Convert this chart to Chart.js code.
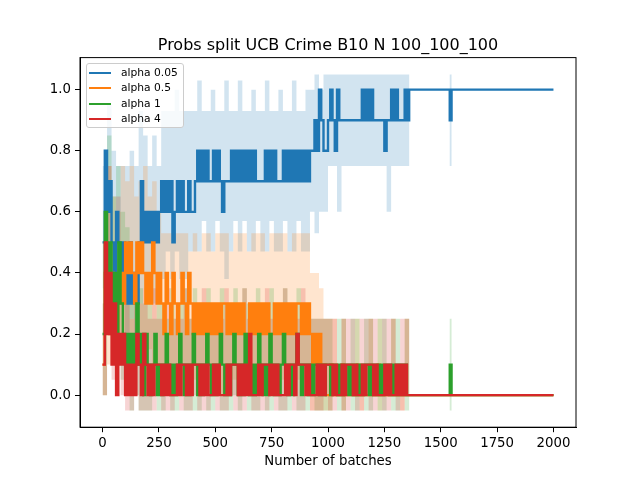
<!DOCTYPE html>
<html>
<head>
<meta charset="utf-8">
<script src="https://cdn.jsdelivr.net/npm/chart.js@4/dist/chart.umd.min.js"></script>
<style>
body { margin: 0; background: #fff; }
#wrap { position: relative; width: 640px; height: 480px; font-family: "DejaVu Sans", sans-serif; }
#legend { position: absolute; left: 86px; top: 63px; width: 98px; height: 65px; box-sizing: border-box;
  border: 1px solid #cccccc; border-radius: 3px; background: rgba(255,255,255,0.8); }
.entry { position: absolute; left: 0; height: 14px; width: 98px; }
.entry .swatch { position: absolute; left: 2px; top: 6px; width: 22px; height: 2px; }
.entry .name { position: absolute; left: 34px; top: 0; font-size: 10.7px; line-height: 14px; color: #000; white-space: nowrap; }
</style>
</head>
<body>
<div id="wrap">
  <canvas id="chart" width="640" height="480"></canvas>
  <div id="legend"></div>
</div>
<script>
// chart texts
var chartTitle = "Probs split UCB Crime B10 N 100_100_100";
var xTitle = "Number of batches";
var seriesNames = ["alpha 0.05", "alpha 0.5", "alpha 1", "alpha 4"];
var seriesColors = ["#1f77b4", "#ff7f0e", "#2ca02c", "#d62728"];
var xTicks = [0, 250, 500, 750, 1000, 1250, 1500, 1750, 2000];
var yTicks = [0.0, 0.2, 0.4, 0.6, 0.8, 1.0];

// batch numbers of the mean lines: every 10 batches up to 1360, then the tail
var batches = [];
for (var b = 0; b <= 1360; b += 10) batches.push(b);
batches.push(1540, 1548, 2000);

// batch numbers of the confidence bands: every 20 batches up to 1360, then the tail
var bandBatches = [];
for (var c = 0; c <= 1360; c += 20) bandBatches.push(c);
bandBatches.push(1540, 1548, 2000);

// mean lines (one row = 100 batches)
var alpha005 = [
  0.5, 0.8, 0.6, 0.7, 0.5, 0.4, 0.6, 0.5, 0.4, 0.5,
  0.4, 0.3, 0.5, 0.3, 0.4, 0.3, 0.5, 0.7, 0.5, 0.6,
  0.5, 0.6, 0.5, 0.6, 0.5, 0.6, 0.7, 0.6, 0.7, 0.6,
  0.7, 0.5, 0.6, 0.7, 0.6, 0.7, 0.6, 0.6, 0.7, 0.6,
  0.6, 0.7, 0.8, 0.7, 0.8, 0.7, 0.8, 0.7, 0.7, 0.8,
  0.7, 0.8, 0.7, 0.6, 0.7, 0.7, 0.7, 0.8, 0.7, 0.8,
  0.7, 0.8, 0.7, 0.8, 0.7, 0.8, 0.7, 0.8, 0.7, 0.7,
  0.7, 0.7, 0.8, 0.7, 0.8, 0.7, 0.8, 0.7, 0.7, 0.7,
  0.8, 0.7, 0.8, 0.7, 0.8, 0.7, 0.8, 0.7, 0.8, 0.7,
  0.8, 0.7, 0.8, 0.8, 0.9, 0.8, 1.0, 0.9, 0.8, 0.8,
  0.9, 1.0, 0.9, 0.8, 1.0, 0.9, 0.9, 0.9, 0.9, 0.9,
  0.9, 0.9, 0.9, 0.9, 0.9, 1.0, 0.9, 1.0, 0.9, 1.0,
  0.9, 0.9, 0.9, 0.9, 0.9, 0.8, 0.9, 0.9, 1.0, 0.9,
  1.0, 0.9, 0.9, 0.9, 1.0, 0.9, 1.0,
  0.9, 1.0, 1.0
];
var alpha05 = [
  0.1, 0.4, 0.3, 0.2, 0.4, 0.3, 0.2, 0.3, 0.4, 0.3,
  0.5, 0.4, 0.5, 0.4, 0.3, 0.5, 0.4, 0.5, 0.4, 0.3,
  0.4, 0.3, 0.5, 0.4, 0.3, 0.4, 0.3, 0.2, 0.4, 0.3,
  0.2, 0.4, 0.3, 0.2, 0.3, 0.4, 0.3, 0.2, 0.4, 0.3,
  0.2, 0.3, 0.2, 0.3, 0.2, 0.3, 0.2, 0.3, 0.2, 0.3,
  0.2, 0.3, 0.2, 0.3, 0.3, 0.2, 0.3, 0.2, 0.3, 0.2,
  0.3, 0.2, 0.3, 0.2, 0.2, 0.3, 0.2, 0.3, 0.2, 0.3,
  0.2, 0.3, 0.2, 0.3, 0.2, 0.2, 0.3, 0.2, 0.3, 0.2,
  0.3, 0.2, 0.3, 0.2, 0.3, 0.2, 0.3, 0.3, 0.2, 0.3,
  0.2, 0.3, 0.2, 0.1, 0.2, 0.1, 0.2, 0.1, 0.1, 0.0,
  0.0, 0.1, 0.0, 0.0, 0.0, 0.0, 0.1, 0.0, 0.0, 0.0,
  0.0, 0.0, 0.0, 0.1, 0.0, 0.0, 0.0, 0.0, 0.0, 0.0,
  0.0, 0.0, 0.1, 0.0, 0.0, 0.0, 0.0, 0.0, 0.0, 0.0,
  0.0, 0.0, 0.0, 0.0, 0.0, 0.0, 0.0,
  0.0, 0.0, 0.0
];
var alpha1 = [
  0.2, 0.6, 0.4, 0.5, 0.3, 0.4, 0.2, 0.5, 0.3, 0.2,
  0.1, 0.2, 0.1, 0.2, 0.1, 0.3, 0.1, 0.2, 0.0, 0.2,
  0.1, 0.0, 0.1, 0.2, 0.0, 0.1, 0.0, 0.1, 0.2, 0.1,
  0.0, 0.1, 0.0, 0.1, 0.2, 0.1, 0.0, 0.1, 0.0, 0.1,
  0.2, 0.1, 0.0, 0.1, 0.0, 0.1, 0.2, 0.1, 0.0, 0.1,
  0.0, 0.1, 0.2, 0.1, 0.0, 0.1, 0.0, 0.1, 0.2, 0.1,
  0.0, 0.1, 0.0, 0.2, 0.1, 0.0, 0.1, 0.0, 0.1, 0.2,
  0.1, 0.0, 0.1, 0.0, 0.2, 0.1, 0.0, 0.1, 0.0, 0.1,
  0.2, 0.1, 0.0, 0.1, 0.0, 0.1, 0.2, 0.1, 0.0, 0.1,
  0.1, 0.0, 0.1, 0.0, 0.1, 0.1, 0.0, 0.1, 0.0, 0.1,
  0.1, 0.0, 0.1, 0.1, 0.0, 0.1, 0.0, 0.1, 0.1, 0.0,
  0.1, 0.0, 0.1, 0.0, 0.1, 0.0, 0.1, 0.1, 0.0, 0.1,
  0.0, 0.1, 0.0, 0.1, 0.0, 0.1, 0.1, 0.0, 0.1, 0.0,
  0.1, 0.0, 0.1, 0.0, 0.1, 0.0, 0.0,
  0.1, 0.0, 0.0
];
var alpha4 = [
  0.1, 0.5, 0.2, 0.4, 0.1, 0.3, 0.0, 0.2, 0.1, 0.2,
  0.0, 0.1, 0.0, 0.1, 0.0, 0.2, 0.1, 0.0, 0.2, 0.1,
  0.0, 0.1, 0.0, 0.1, 0.1, 0.1, 0.0, 0.1, 0.0, 0.1,
  0.0, 0.0, 0.0, 0.1, 0.0, 0.1, 0.1, 0.0, 0.1, 0.0,
  0.1, 0.1, 0.1, 0.0, 0.1, 0.0, 0.1, 0.0, 0.0, 0.1,
  0.0, 0.1, 0.0, 0.0, 0.0, 0.1, 0.0, 0.1, 0.1, 0.1,
  0.0, 0.1, 0.0, 0.1, 0.0, 0.2, 0.0, 0.0, 0.0, 0.1,
  0.0, 0.1, 0.1, 0.1, 0.0, 0.1, 0.0, 0.1, 0.0, 0.0,
  0.0, 0.1, 0.0, 0.1, 0.1, 0.0, 0.2, 0.1, 0.1, 0.1,
  0.0, 0.1, 0.0, 0.0, 0.0, 0.1, 0.0, 0.1, 0.0, 0.1,
  0.1, 0.1, 0.0, 0.1, 0.0, 0.0, 0.1, 0.0, 0.1, 0.1,
  0.1, 0.0, 0.1, 0.0, 0.0, 0.1, 0.0, 0.1, 0.1, 0.1,
  0.0, 0.1, 0.0, 0.0, 0.0, 0.1, 0.0, 0.1, 0.0, 0.0,
  0.1, 0.0, 0.1, 0.0, 0.1, 0.0, 0.0,
  0.0, 0.0, 0.0
];

// confidence bands, lower and upper edge (one row = 200 batches)
var alpha005Low = [
  0.35, 0.3, 0.25, 0.3, 0.3, 0.2, 0.25, 0.15, 0.3, 0.35,
  0.35, 0.3, 0.35, 0.38, 0.47, 0.38, 0.47, 0.38, 0.38, 0.47,
  0.47, 0.47, 0.57, 0.47, 0.47, 0.57, 0.47, 0.38, 0.47, 0.57,
  0.47, 0.57, 0.47, 0.47, 0.57, 0.47, 0.47, 0.57, 0.47, 0.47,
  0.57, 0.47, 0.47, 0.57, 0.47, 0.47, 0.6, 0.53, 0.6, 0.6,
  0.75, 0.75, 0.6, 0.75, 0.75, 0.75, 0.75, 0.75, 0.75, 0.75,
  0.75, 0.75, 0.75, 0.6, 0.75, 0.75, 0.75, 0.75, 1.0,
  0.75, 1.0, 1.0
];
var alpha005High = [
  0.75, 0.95, 0.8, 0.75, 0.75, 0.75, 0.8, 0.75, 0.93, 0.85,
  0.75, 0.85, 0.75, 0.93, 0.93, 0.93, 1.0, 0.93, 0.93, 0.93,
  0.93, 1.03, 0.93, 0.93, 1.0, 0.93, 0.93, 1.03, 0.93, 0.93,
  1.03, 0.93, 0.93, 1.0, 0.93, 0.93, 1.03, 0.93, 0.93, 1.0,
  0.93, 0.93, 1.03, 0.93, 0.93, 1.0, 1.0, 1.05, 1.0, 1.05,
  1.05, 1.05, 1.05, 1.05, 1.05, 1.05, 1.05, 1.05, 1.05, 1.05,
  1.05, 1.05, 1.05, 1.05, 1.05, 1.05, 1.05, 1.05, 1.0,
  1.05, 1.0, 1.0
];
var alpha05Low = [
  0.0, 0.1, 0.1, 0.15, 0.2, 0.2, 0.15, 0.2, 0.2, 0.15,
  0.15, 0.1, 0.1, 0.05, 0.05, 0.1, 0.05, 0.05, 0.05, 0.05,
  0.05, 0.05, 0.0, 0.05, 0.05, 0.05, 0.0, 0.05, 0.05, 0.05,
  0.05, 0.0, 0.05, 0.05, 0.05, 0.05, 0.0, 0.05, 0.05, 0.05,
  0.05, 0.05, 0.0, 0.05, 0.05, 0.0, -0.05, -0.05, -0.05, -0.05,
  -0.05, 0.0, 0.0, -0.05, 0.0, 0.0, 0.0, -0.05, 0.0, 0.0,
  0.0, -0.05, 0.0, 0.0, 0.0, 0.0, -0.05, 0.0, 0.0,
  0.0, 0.0, 0.0
];
var alpha05High = [
  0.5, 0.75, 0.65, 0.6, 0.75, 0.7, 0.75, 0.65, 0.7, 0.75,
  0.65, 0.7, 0.6, 0.53, 0.53, 0.53, 0.53, 0.53, 0.53, 0.47,
  0.53, 0.47, 0.53, 0.53, 0.47, 0.53, 0.53, 0.53, 0.47, 0.53,
  0.53, 0.53, 0.47, 0.53, 0.53, 0.53, 0.47, 0.53, 0.53, 0.53,
  0.53, 0.47, 0.53, 0.53, 0.53, 0.53, 0.4, 0.4, 0.35, 0.25,
  0.25, 0.25, 0.0, 0.25, 0.0, 0.0, 0.25, 0.0, 0.0, 0.25,
  0.0, 0.25, 0.0, 0.0, 0.25, 0.0, 0.0, 0.25, 0.0,
  0.0, 0.0, 0.0
];
var alpha1Low = [
  0.0, 0.25, 0.1, 0.15, 0.05, 0.0, -0.05, 0.0, -0.05, -0.05,
  -0.05, 0.0, -0.05, -0.05, 0.0, -0.05, -0.05, 0.0, -0.05, -0.05,
  -0.05, -0.05, 0.0, -0.05, -0.05, 0.0, -0.05, -0.05, -0.05, 0.0,
  -0.05, 0.0, -0.05, -0.05, -0.05, 0.0, -0.05, -0.05, 0.0, -0.05,
  -0.05, -0.05, 0.0, -0.05, -0.05, -0.05, 0.0, -0.05, -0.05, -0.05,
  -0.05, 0.0, -0.05, -0.05, 0.0, -0.05, -0.05, 0.0, -0.05, -0.05,
  0.0, -0.05, -0.05, 0.0, -0.05, -0.05, 0.0, -0.05, 0.0,
  -0.05, 0.0, 0.0
];
var alpha1High = [
  0.3, 0.85, 0.65, 0.75, 0.6, 0.55, 0.35, 0.4, 0.35, 0.3,
  0.35, 0.25, 0.35, 0.3, 0.25, 0.35, 0.25, 0.3, 0.35, 0.25,
  0.35, 0.25, 0.3, 0.35, 0.25, 0.25, 0.35, 0.3, 0.25, 0.35,
  0.25, 0.35, 0.3, 0.25, 0.35, 0.25, 0.3, 0.35, 0.25, 0.3,
  0.35, 0.25, 0.3, 0.35, 0.25, 0.3, 0.25, 0.25, 0.25, 0.25,
  0.25, 0.1, 0.25, 0.25, 0.1, 0.25, 0.25, 0.1, 0.25, 0.25,
  0.1, 0.25, 0.25, 0.1, 0.25, 0.25, 0.1, 0.25, 0.0,
  0.25, 0.0, 0.0
];
var alpha4Low = [
  0.0, 0.2, 0.05, 0.1, 0.0, -0.05, -0.05, 0.0, -0.05, -0.05,
  -0.05, -0.05, 0.0, -0.05, -0.05, -0.05, 0.0, -0.05, -0.05, -0.05,
  0.0, -0.05, -0.05, -0.05, 0.0, -0.05, -0.05, -0.05, 0.0, -0.05,
  -0.05, -0.05, 0.0, -0.05, -0.05, -0.05, -0.05, 0.0, -0.05, -0.05,
  -0.05, 0.0, -0.05, -0.05, -0.05, 0.0, -0.05, -0.05, -0.05, 0.0,
  -0.05, -0.05, 0.0, -0.05, -0.05, 0.0, -0.05, -0.05, 0.0, -0.05,
  -0.05, 0.0, -0.05, -0.05, 0.0, -0.05, -0.05, 0.0, 0.0,
  0.0, 0.0, 0.0
];
var alpha4High = [
  0.3, 0.75, 0.5, 0.65, 0.35, 0.5, 0.25, 0.35, 0.3, 0.35,
  0.25, 0.35, 0.25, 0.25, 0.35, 0.25, 0.25, 0.25, 0.35, 0.25,
  0.25, 0.25, 0.35, 0.25, 0.25, 0.25, 0.25, 0.35, 0.25, 0.25,
  0.25, 0.35, 0.25, 0.25, 0.25, 0.25, 0.35, 0.25, 0.25, 0.25,
  0.35, 0.25, 0.25, 0.25, 0.35, 0.25, 0.25, 0.25, 0.25, 0.25,
  0.25, 0.25, 0.1, 0.25, 0.25, 0.25, 0.1, 0.25, 0.25, 0.25,
  0.25, 0.1, 0.25, 0.25, 0.25, 0.1, 0.25, 0.25, 0.0,
  0.0, 0.0, 0.0
];

var lines = [alpha005, alpha05, alpha1, alpha4];
var bandLows = [alpha005Low, alpha05Low, alpha1Low, alpha4Low];
var bandHighs = [alpha005High, alpha05High, alpha1High, alpha4High];

function toPoints(xs, ys) {
  return xs.map(function (x, k) { return { x: x, y: ys[k] }; });
}

function fade(hex, a) {
  var n = parseInt(hex.slice(1), 16);
  return "rgba(" + (n >> 16) + "," + ((n >> 8) & 255) + "," + (n & 255) + "," + a + ")";
}

var datasets = [];
// bands sit under every line, like matplotlib's fill_between
bandLows.forEach(function (low, i) {
  datasets.push({
    label: seriesNames[i] + " low", data: toPoints(bandBatches, low),
    borderWidth: 0, pointRadius: 0, stepped: true, fill: false, order: 7 - i
  });
  datasets.push({
    label: seriesNames[i] + " high", data: toPoints(bandBatches, bandHighs[i]),
    borderWidth: 0, pointRadius: 0, stepped: true, fill: "-1",
    backgroundColor: fade(seriesColors[i], 0.2), order: 7 - i
  });
});
lines.forEach(function (vals, i) {
  datasets.push({
    label: seriesNames[i], data: toPoints(batches, vals),
    borderColor: seriesColors[i], borderWidth: 2.4, pointRadius: 0,
    stepped: true, fill: false, order: 3 - i
  });
});

// full box round the axes plus the title above it
var framePlugin = {
  id: "frame",
  afterDraw: function (chart) {
    var ctx = chart.ctx, a = chart.chartArea;
    ctx.save();
    ctx.strokeStyle = "#000";
    ctx.lineWidth = 1;
    ctx.strokeRect(a.left, a.top, a.right - a.left, a.bottom - a.top);
    ctx.fillStyle = "#000";
    ctx.font = '16px "DejaVu Sans"';
    ctx.textAlign = "center";
    ctx.textBaseline = "alphabetic";
    ctx.fillText(chartTitle, (a.left + a.right) / 2, a.top - 8);
    ctx.restore();
  }
};

var tickFont = { family: "DejaVu Sans", size: 13.3 };

new Chart("chart", {
  type: "line",
  data: { datasets: datasets },
  options: {
    responsive: false,
    animation: false,
    events: [],
    layout: { padding: { left: 0, right: 64, top: 57.6, bottom: 0 } },
    plugins: { legend: { display: false }, tooltip: { enabled: false }, title: { display: false } },
    scales: {
      x: {
        type: "linear", min: -100, max: 2100,
        afterBuildTicks: function (s) { s.ticks = xTicks.map(function (v) { return { value: v }; }); },
        afterFit: function (s) { s.height = 52.8; },
        grid: { drawOnChartArea: false, tickLength: 5, color: "#000" },
        border: { color: "#000", width: 1 },
        ticks: { color: "#000", font: tickFont, padding: 3, autoSkip: false, maxRotation: 0,
                 callback: function (v) { return String(v); } },
        title: { display: true, text: xTitle, color: "#000", font: tickFont, padding: { top: 0, bottom: 10 } }
      },
      y: {
        min: -0.105, max: 1.105,
        afterBuildTicks: function (s) { s.ticks = yTicks.map(function (v) { return { value: v }; }); },
        afterFit: function (s) { s.width = 80; },
        grid: { drawOnChartArea: false, tickLength: 5, color: "#000" },
        border: { color: "#000", width: 1 },
        ticks: { color: "#000", font: tickFont, padding: 4,
                 callback: function (v) { return v.toFixed(1); } }
      }
    }
  },
  plugins: [framePlugin]
});

// legend in the top left corner of the axes
var legend = document.getElementById("legend");
seriesNames.forEach(function (name, i) {
  var row = document.createElement("div");
  row.className = "entry";
  row.style.top = (2 + i * 15.4) + "px";
  var sw = document.createElement("div");
  sw.className = "swatch";
  sw.style.background = seriesColors[i];
  var tx = document.createElement("div");
  tx.className = "name";
  tx.textContent = name;
  row.appendChild(sw);
  row.appendChild(tx);
  legend.appendChild(row);
});
</script>
</body>
</html>
